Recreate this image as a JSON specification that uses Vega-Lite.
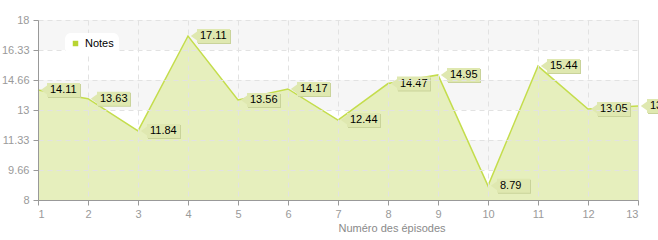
{
  "$schema": "https://vega.github.io/schema/vega-lite/v6.json",
  "width": 600,
  "height": 180,
  "autosize": "none",
  "padding": {"left": 38, "top": 20, "right": 20, "bottom": 40},
  "background": "white",
  "config": {
    "view": {"stroke": "#e2e2e2", "strokeWidth": 1},
    "font": "Liberation Sans",
    "axis": {"labelOverlap": false},
    "axisY": {"labelOverlap": false},
    "axisQuantitative": {"labelOverlap": false}
  },
  "datasets": {
    "notes": [
      {"episode": 1, "note": 14.11, "serie": "Notes"},
      {"episode": 2, "note": 13.63, "serie": "Notes"},
      {"episode": 3, "note": 11.84, "serie": "Notes"},
      {"episode": 4, "note": 17.11, "serie": "Notes"},
      {"episode": 5, "note": 13.56, "serie": "Notes"},
      {"episode": 6, "note": 14.17, "serie": "Notes"},
      {"episode": 7, "note": 12.44, "serie": "Notes"},
      {"episode": 8, "note": 14.47, "serie": "Notes"},
      {"episode": 9, "note": 14.95, "serie": "Notes"},
      {"episode": 10, "note": 8.79, "serie": "Notes"},
      {"episode": 11, "note": 15.44, "serie": "Notes"},
      {"episode": 12, "note": 13.05, "serie": "Notes"},
      {"episode": 13, "note": 13.22, "serie": "Notes"}
    ],
    "bands": [
      {"note": 16.33, "hi": 18},
      {"note": 13, "hi": 14.66},
      {"note": 9.66, "hi": 11.33}
    ]
  },
  "encoding": {
    "y": {"field": "note", "type": "quantitative",
      "scale": {"domain": [8, 18], "nice": false, "zero": false},
      "axis": {
        "values": [8, 9.66, 11.33, 13, 14.66, 16.33, 18],
        "format": ".2~f",
        "labelOverlap": false,
        "title": null,
        "labelColor": "#9a9a9a",
        "labelFontSize": 11,
        "labelPadding": 4,
        "domainColor": "#999999",
        "tickColor": "#999999",
        "tickSize": 5,
        "grid": true,
        "gridColor": "#e2e2e2",
        "gridDash": [5, 4],
        "zindex": 1
      }
    }
  },
  "layer": [
    {
      "data": {"name": "bands"},
      "mark": {"type": "rect", "color": "#f6f6f6"},
      "encoding": {
        "y2": {"field": "hi"}
      }
    },
    {
      "data": {"name": "notes"},
      "encoding": {
        "x": {"field": "episode", "type": "quantitative",
          "scale": {"domain": [1, 13], "nice": false, "zero": false},
          "axis": {
            "values": [1,2,3,4,5,6,7,8,9,10,11,12,13],
            "labelOverlap": false,
            "title": "Numéro des épisodes",
            "titleAlign": "left",
            "titleFontWeight": "normal",
            "titleFontSize": 11,
            "titleColor": "#8a8a8a",
            "titlePadding": 3,
            "labelColor": "#9a9a9a",
            "labelFontSize": 11,
            "labelPadding": 3,
            "domainColor": "#999999",
            "tickColor": "#999999",
            "tickSize": 5,
            "grid": true,
            "gridColor": "#e2e2e2",
            "gridDash": [5, 4],
            "zindex": 1
          }
        }
      },
      "layer": [
        {
          "mark": {"type": "area", "color": "#e6efbd", "opacity": 1},
          "encoding": {
            "y": {"field": "note", "type": "quantitative", "stack": null},
            "y2": {"datum": 8}
          }
        },
        {
          "mark": {"type": "line", "strokeWidth": 1.5},
          "encoding": {
            "color": {"field": "serie", "type": "nominal",
              "scale": {"range": ["#c4dd4c"]},
              "legend": {
                "orient": "none",
                "legendX": 27,
                "legendY": 13,
                "title": null,
                "symbolType": "square",
                "symbolSize": 30,
                "symbolFillColor": "#b8d432",
                "symbolStrokeWidth": 0,
                "labelFontSize": 11,
                "labelColor": "#000000",
                "fillColor": "white",
                "cornerRadius": 6,
                "padding": 5,
                "labelLimit": 100,
                "zindex": 2
              }
            }
          }
        },
        {
          "mark": {"type": "rect", "color": "#c9d39a", "xOffset": 10, "x2Offset": 43, "yOffset": -6, "y2Offset": 8},
          "encoding": {
            "x2": {"field": "episode"},
            "y2": {"field": "note"}
          }
        },
        {
          "mark": {"type": "point", "shape": "M-0.7,0L0.7,-1L0.7,1Z", "filled": true, "color": "#dfe8b0", "opacity": 1, "size": 144, "xOffset": 7},
          "encoding": {}
        },
        {
          "mark": {"type": "rect", "color": "#dfe8b0", "xOffset": 9, "x2Offset": 42, "yOffset": -7, "y2Offset": 7},
          "encoding": {
            "x2": {"field": "episode"},
            "y2": {"field": "note"}
          }
        },
        {
          "mark": {"type": "text", "align": "left", "baseline": "middle", "dx": 12, "fontSize": 11, "color": "#000000"},
          "encoding": {
            "text": {"field": "note", "type": "quantitative", "format": ".2f"}
          }
        }
      ]
    }
  ]
}
